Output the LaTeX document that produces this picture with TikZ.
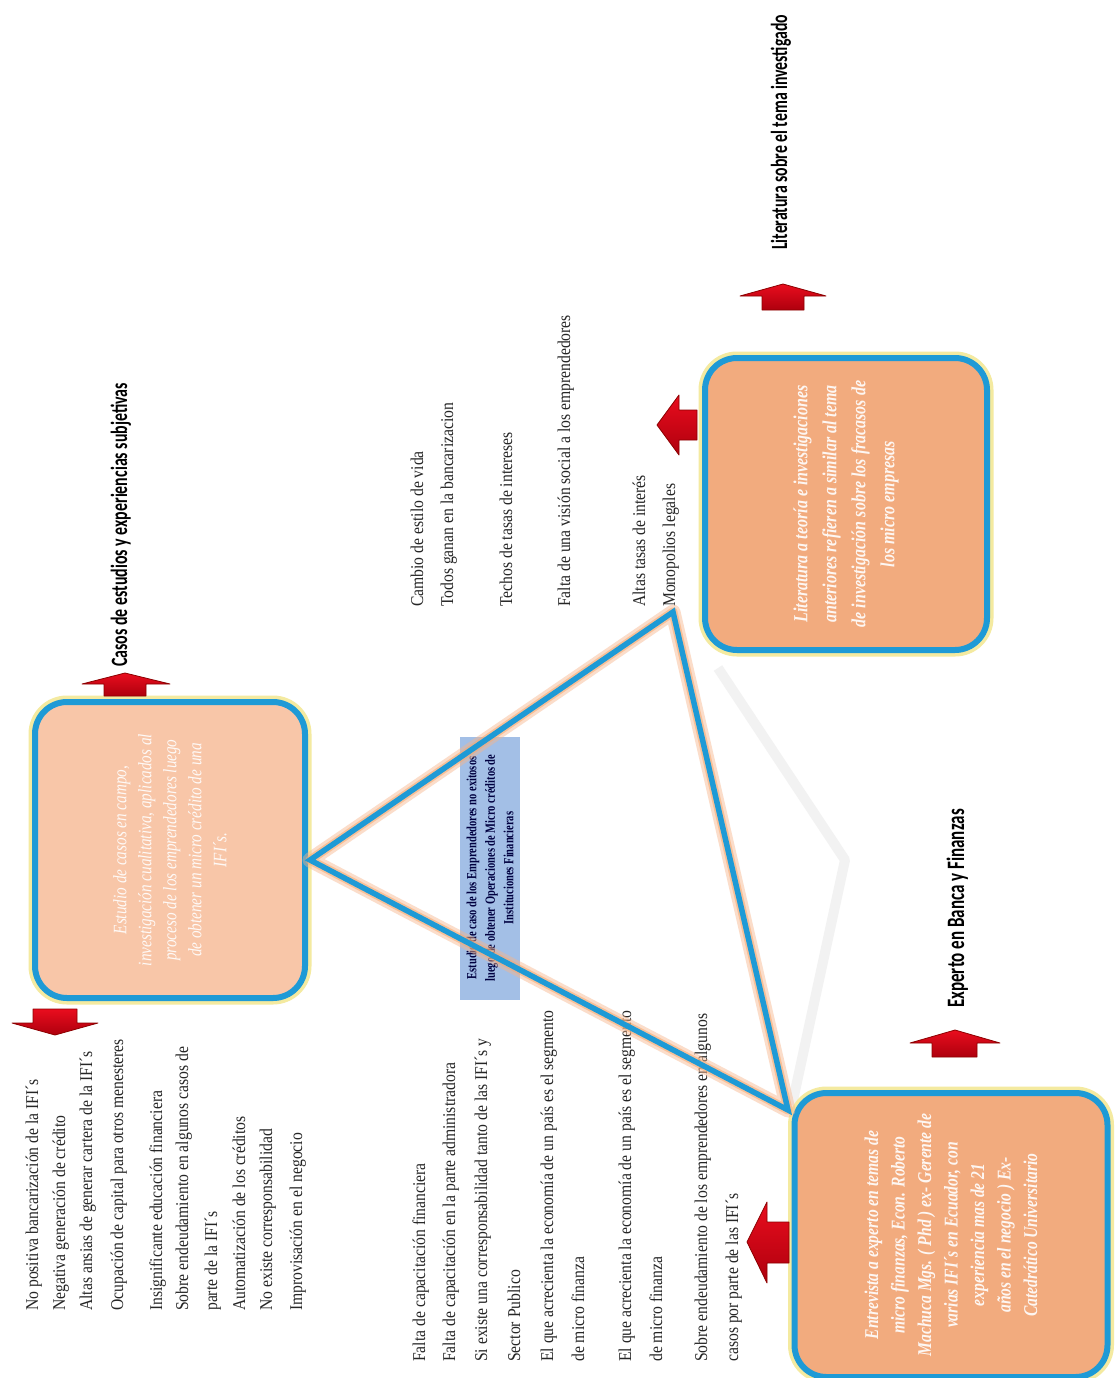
\documentclass[tikz,border=0pt]{standalone}
\usepackage{fontspec}
\setmainfont{Liberation Serif}
\newfontfamily\listfont[FakeStretch=0.87]{Liberation Serif}
\newfontfamily\headfont[FakeStretch=0.68]{Carlito}
\newfontfamily\boxfont[FakeStretch=0.8]{Liberation Serif}
\newfontfamily\labfont[FakeStretch=0.75]{Liberation Serif}
\definecolor{cblue}{RGB}{30,154,214}
\definecolor{cglow}{RGB}{244,234,160}
\definecolor{peachA}{RGB}{248,198,168}
\definecolor{peachB}{RGB}{242,171,126}
\definecolor{tglow}{RGB}{247,180,138}
\definecolor{clab}{RGB}{163,191,230}
\definecolor{cred}{RGB}{232,0,18}
\definecolor{cdred}{RGB}{140,0,0}
\newcommand\rline[4]{\node[listtxt] (#1) at (#2+5,#3) {#4};}
\newcommand\hdline[5]{\node[headtxt,font=\headfont\bfseries\fontsize{#5}{#5}\selectfont] (#1) at (#2+7,#3) {#4};}
\begin{document}
\begin{tikzpicture}[x=1pt,y=-1pt,
  listtxt/.style={rotate=90, anchor=base west, inner sep=0pt, text=black!85,
    font=\listfont\fontsize{18}{22}\selectfont},
  headtxt/.style={rotate=90, anchor=base west, inner sep=0pt, text=black},
  boxst/.style={rectangle, rounded corners=32pt, draw=cblue, line width=6pt,
    preaction={draw=cglow, line width=13pt}, rotate=90, align=center,
    text=white, text opacity=0.9, inner sep=0pt},
  labst/.style={rectangle, fill=clab, rotate=90, align=center, inner sep=0pt,
    text=black!75!blue, font=\labfont\bfseries\fontsize{14}{18.5}\selectfont},
  redarr/.style={top color=cred!95!white, bottom color=cred!75!black, draw=cdred,
    line width=0.8pt, line join=round},
  trglow/.style={draw=tglow, line width=15pt, opacity=0.45, line join=round},
  trmid/.style={draw=tglow!80!orange, line width=9pt, opacity=0.55, line join=round},
  trline/.style={draw=cblue, line width=5.5pt, line join=miter},
  faint/.style={draw=gray!18, line width=10pt, opacity=0.55, line join=round}
]
\useasboundingbox (0,0) rectangle (1119,1378);
\fill[white] (0,0) rectangle (1119,1378);

% ---------- list 1 (left) ----------
\rline{a1}{33}{1311}{No positiva bancarización de la IFI´s}
\rline{a2}{60}{1311}{Negativa generación de crédito}
\rline{a3}{87}{1311}{Altas ansias de generar cartera de la IFI´s}
\rline{a4}{118}{1311}{Ocupación de capital para otros menesteres}
\rline{a5}{157}{1311}{Insignificante educación financiera}
\rline{a6}{183}{1311}{Sobre  endeudamiento en algunos casos de}
\rline{a7}{212}{1311}{parte de la IFI´s}
\rline{a8}{240}{1311}{Automatización de los créditos}
\rline{a9}{267}{1311}{No existe corresponsabilidad}
\rline{a10}{297}{1311}{Improvisación en el negocio}

% ---------- list 3 (middle bottom) ----------
\rline{c1}{420}{1362}{Falta de capacitación financiera}
\rline{c2}{450}{1362}{Falta de capacitación en la parte administradora}
\rline{c3}{482}{1362}{Si existe una corresponsabilidad tanto de las IFI´s y}
\rline{c4}{515}{1362}{Sector Publico}
\rline{c5}{548}{1362}{El que acrecienta la economía de un país es el segmento}
\rline{c6}{579}{1362}{de micro finanza}
\rline{c7}{626}{1362}{El que acrecienta la economía de un país es el segmento}
\rline{c8}{657}{1362}{de micro finanza}
\rline{c9}{702}{1362}{Sobre endeudamiento de los emprendedores en algunos}
\rline{c10}{733}{1362}{casos por parte de las IFI´s}

% ---------- list 2 (middle top) ----------
\rline{b1}{418}{607}{Cambio de estilo de vida}
\rline{b2}{448}{607}{Todos ganan en la bancarizacion}
\rline{b3}{507}{607}{Techos de tasas de intereses}
\rline{b4}{565}{607}{Falta de una visión social a los emprendedores}
\rline{b5}{640}{607}{Altas tasas de interés}
\rline{b6}{670}{607}{Monopolios legales}

% ---------- headings ----------
\hdline{hA}{120}{667}{Casos de estudios y experiencias subjetivas}{23.4}
\hdline{hC}{780}{250}{Literatura sobre el tema investigado}{23.2}
\hdline{hB}{957}{1008}{Experto en Banca y Finanzas}{25}

% ---------- central label ----------
\node[labst, minimum width=263pt, minimum height=60pt] (lab) at (490,868)
  {Estudio de caso de los Emprendedores no exitosos\\
   luego de obtener Operaciones de Micro créditos de\\
   Instituciones Financieras};

% ---------- faint shadow ----------
\coordinate (f1) at (718,668);
\coordinate (f2) at (845,860);
\coordinate (f3) at (792,1105);
\draw[faint] (f1) -- (f2) -- (f3);

% ---------- boxes ----------
\node[boxst, fill=peachA, minimum width=296pt, minimum height=270pt,
  font=\boxfont\itshape\fontsize{19}{25}\selectfont] (boxA) at (170,850)
  {Estudio de casos en campo,\\
   investigación cualitativa, aplicados al\\
   proceso de los emprendedores luego\\
   de obtener un micro crédito de una\\
   IFI´s.};
\node[boxst, fill=peachB, minimum width=284pt, minimum height=313pt,
  font=\boxfont\itshape\bfseries\fontsize{19.5}{26.5}\selectfont] (boxB) at (951,1235)
  {Entrevista a experto en temas de\\
   micro finanzas, Econ. Roberto\\
   Machuca Mgs. ( Phd ) ex- Gerente de\\
   varias IFI´s en Ecuador, con\\
   experiencia mas de 21\\
   años en el negocio ) Ex-\\
   Catedrático Universitario};
\node[boxst, fill=peachB, minimum width=292pt, minimum height=282pt,
  font=\boxfont\itshape\bfseries\fontsize{20}{29}\selectfont] (boxC) at (846,504)
  {Literatura a teoría e investigaciones\\
   anteriores refieren a similar al tema\\
   de investigación sobre los fracasos de\\
   los micro empresas};

% ---------- triangle ----------
\coordinate (tL) at (310,860);
\coordinate (tT) at (673,612);
\coordinate (tB) at (788,1110);
\draw[trglow] (tL) -- (tT) -- (tB) -- cycle;
\draw[trmid] (tL) -- (tT) -- (tB) -- cycle;
\draw[trline] (tL) -- (tT) -- (tB) -- cycle;

% ---------- red block arrows ----------
\draw[redarr] (125,673) -- (170,684) -- (146,684) -- (146,696) -- (104,696) -- (104,684) -- (82,684) -- cycle;
\draw[redarr] (55,1035) -- (98,1023) -- (77,1023) -- (77,1009) -- (33,1009) -- (33,1023) -- (12,1023) -- cycle;
\draw[redarr] (783,284) -- (826,296) -- (804,296) -- (804,310) -- (762,310) -- (762,296) -- (740,296) -- cycle;
\draw[redarr] (657,425) -- (679,395) -- (679,410) -- (697,410) -- (697,440) -- (679,440) -- (679,455) -- cycle;
\draw[redarr] (955,1030) -- (1000,1043) -- (977,1043) -- (977,1057) -- (932,1057) -- (932,1043) -- (910,1043) -- cycle;
\draw[redarr] (747,1242) -- (767,1202) -- (767,1222) -- (789,1222) -- (789,1263) -- (767,1263) -- (767,1283) -- cycle;
\end{tikzpicture}
\end{document}
